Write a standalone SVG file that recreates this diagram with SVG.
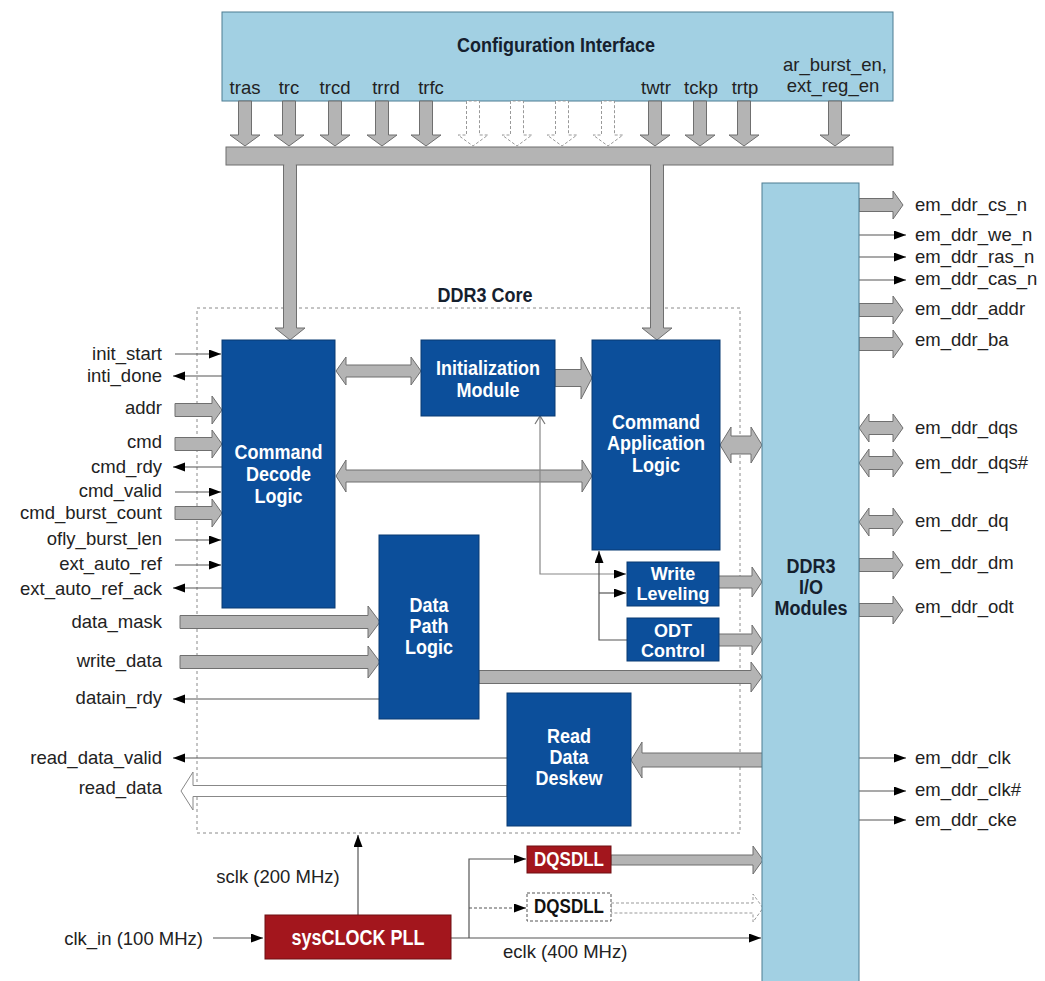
<svg xmlns="http://www.w3.org/2000/svg" width="1045" height="981" viewBox="0 0 1045 981">
<defs>
<style>
.lbl{font-family:"Liberation Sans",Arial,sans-serif;font-size:18.5px;fill:#222}
.r{text-anchor:end}
.c{text-anchor:middle}
.bw{font-family:"Liberation Sans",Arial,sans-serif;font-weight:bold;font-size:18px;fill:#fff;text-anchor:middle}
.bk{font-family:"Liberation Sans",Arial,sans-serif;font-weight:bold;font-size:18px;fill:#15202e;text-anchor:middle}
.blue{fill:#0c4f9b;stroke:#093a72;stroke-width:1}
.lb{fill:#a2d0e3;stroke:#4d7d92;stroke-width:1}
.red{fill:#a3161d;stroke:#6e0e12;stroke-width:1}
.ga{fill:#b4b4b4;stroke:#6f6f6f;stroke-width:1}
.gd{fill:#fff;stroke:#999;stroke-width:1;stroke-dasharray:3,2}
.ho{fill:#fff;stroke:#888;stroke-width:1}
.tn{fill:none;stroke:#555;stroke-width:1.2}
.tg{fill:none;stroke:#888;stroke-width:1.2}
</style>
<marker id="ah" markerUnits="userSpaceOnUse" markerWidth="13" markerHeight="10" refX="12" refY="4.5" orient="auto"><path d="M0,0 L12,4.5 L0,9 Z" fill="#000"/></marker>
</defs>
<rect width="1045" height="981" fill="#fff"/>

<g id="ddr3core">
<rect x="197" y="308" width="543" height="525" fill="none" stroke="#8a8a8a" stroke-width="1" stroke-dasharray="3,3"/>
<text class="bk" transform="translate(485,302) scale(1,1.12)">DDR3 Core</text>
</g>

<g id="config">
<rect class="lb" x="222" y="12" width="671" height="89"/>
<text class="bk" transform="translate(556,52) scale(1,1.12)">Configuration Interface</text>
<text class="lbl c" x="245" y="94">tras</text>
<text class="lbl c" x="289" y="94">trc</text>
<text class="lbl c" x="335" y="94">trcd</text>
<text class="lbl c" x="386" y="94">trrd</text>
<text class="lbl c" x="431" y="94">trfc</text>
<text class="lbl c" x="656" y="94">twtr</text>
<text class="lbl c" x="701" y="94">tckp</text>
<text class="lbl c" x="745" y="94">trtp</text>
<text class="lbl c" x="835" y="71">ar_burst_en,</text>
<text class="lbl c" x="833" y="92">ext_reg_en</text>
</g>

<g id="connectors">
<path class="ga" d="M238.5,101 V135 H230 L245,146 L260,135 H251.5 V101 Z"/>
<path class="ga" d="M282.5,101 V135 H274 L289,146 L304,135 H295.5 V101 Z"/>
<path class="ga" d="M328.5,101 V135 H320 L335,146 L350,135 H341.5 V101 Z"/>
<path class="ga" d="M375.5,101 V135 H367 L382,146 L397,135 H388.5 V101 Z"/>
<path class="ga" d="M419.5,101 V135 H411 L426,146 L441,135 H432.5 V101 Z"/>
<path class="gd" d="M466.5,101 V135 H458 L473,146 L488,135 H479.5 V101 Z"/>
<path class="gd" d="M510.5,101 V135 H502 L517,146 L532,135 H523.5 V101 Z"/>
<path class="gd" d="M555.5,101 V135 H547 L562,146 L577,135 H568.5 V101 Z"/>
<path class="gd" d="M601.5,101 V135 H593 L608,146 L623,135 H614.5 V101 Z"/>
<path class="ga" d="M648.5,101 V135 H640 L655,146 L670,135 H661.5 V101 Z"/>
<path class="ga" d="M693.5,101 V135 H685 L700,146 L715,135 H706.5 V101 Z"/>
<path class="ga" d="M737.5,101 V135 H729 L744,146 L759,135 H750.5 V101 Z"/>
<path class="ga" d="M828.5,101 V135 H820 L835,146 L850,135 H841.5 V101 Z"/>
<path class="ga" d="M283.5,164 V328 H275 L290,340 L305,328 H296.5 V164 Z"/>
<path class="ga" d="M650.5,164 V328 H642 L657,340 L672,328 H663.5 V164 Z"/>
<rect class="ga" x="226" y="147" width="667" height="18"/>
<rect x="284.2" y="163" width="11.6" height="4" fill="#b4b4b4"/>
<rect x="651.2" y="163" width="11.6" height="4" fill="#b4b4b4"/>

<line class="tn" x1="175" y1="354" x2="221" y2="354" marker-end="url(#ah)"/>
<line class="tn" x1="222" y1="376" x2="173" y2="376" marker-end="url(#ah)"/>
<path class="ga" d="M175,403.5 H212 V396 L222,410 L212,424 V416.5 H175 Z"/>
<path class="ga" d="M175,437.5 H212 V430 L222,444 L212,458 V450.5 H175 Z"/>
<line class="tn" x1="222" y1="467" x2="173" y2="467" marker-end="url(#ah)"/>
<line class="tn" x1="175" y1="492" x2="221" y2="492" marker-end="url(#ah)"/>
<path class="ga" d="M175,506.5 H212 V499 L222,513 L212,527 V519.5 H175 Z"/>
<line class="tn" x1="175" y1="540" x2="221" y2="540" marker-end="url(#ah)"/>
<line class="tn" x1="175" y1="565" x2="221" y2="565" marker-end="url(#ah)"/>
<line class="tn" x1="222" y1="588" x2="173" y2="588" marker-end="url(#ah)"/>
<path class="ga" d="M180,615.5 H368 V606 L380,622 L368,638 V628.5 H180 Z"/>
<path class="ga" d="M180,655.5 H368 V646 L380,662 L368,678 V668.5 H180 Z"/>
<line class="tn" x1="379" y1="699" x2="173" y2="699" marker-end="url(#ah)"/>
<line class="tn" x1="507" y1="758" x2="173" y2="758" marker-end="url(#ah)"/>
<path class="ho" d="M507,785.5 H193 V772 L181,791 L193,810 V796.5 H507 Z"/>

<path class="ga" d="M336,371 L346,357 V365 H411 V357 L421,371 L411,385 V377 H346 V385 Z"/>
<path class="ga" d="M555,369.5 H581 V357 L592,378 L581,399 V386.5 H555 Z"/>
<path class="ga" d="M336,476 L346,460 V470 H582 V460 L592,476 L582,492 V482 H346 V492 Z"/>
<path class="ga" d="M720,445 L731,427 V436 H751 V427 L762,445 L751,463 V454 H731 V463 Z"/>
<path class="ga" d="M718,576 H752 V567 L762,582 L752,597 V588 H718 Z"/>
<path class="ga" d="M718,634 H752 V625 L762,640 L752,655 V646 H718 Z"/>
<path class="ga" d="M479,670.5 H751 V662 L762,677 L751,692 V683.5 H479 Z"/>
<path class="ga" d="M763,753 H642 V742 L631,760 L642,778 V767 H763 Z"/>
<polyline class="tg" points="540,417 540,574 626,574" marker-end="url(#ah)"/>
<path d="M535,424 L540,416 L545,424" fill="none" stroke="#777" stroke-width="1.2"/>
<polyline class="tn" points="627,640 599,640 599,551" marker-end="url(#ah)"/>
<line class="tn" x1="599" y1="593" x2="626" y2="593" marker-end="url(#ah)"/>

<path class="ga" d="M859,198.5 H893 V191 L903,205 L893,219 V211.5 H859 Z"/>
<line class="tn" x1="859" y1="235" x2="906" y2="235" marker-end="url(#ah)"/>
<line class="tn" x1="859" y1="257" x2="906" y2="257" marker-end="url(#ah)"/>
<line class="tn" x1="859" y1="280" x2="906" y2="280" marker-end="url(#ah)"/>
<path class="ga" d="M859,303.5 H893 V296 L903,310 L893,324 V316.5 H859 Z"/>
<path class="ga" d="M859,337.5 H893 V330 L903,344 L893,358 V350.5 H859 Z"/>
<path class="ga" d="M859,428 L869,414 V421.5 H893 V414 L903,428 L893,442 V434.5 H869 V442 Z"/>
<path class="ga" d="M859,463 L869,449 V456.5 H893 V449 L903,463 L893,477 V469.5 H869 V477 Z"/>
<path class="ga" d="M859,522 L869,508 V515.5 H893 V508 L903,522 L893,536 V528.5 H869 V536 Z"/>
<path class="ga" d="M859,558.5 H893 V551 L903,565 L893,579 V571.5 H859 Z"/>
<path class="ga" d="M859,603.5 H893 V596 L903,610 L893,624 V616.5 H859 Z"/>
<line class="tn" x1="859" y1="758" x2="906" y2="758" marker-end="url(#ah)"/>
<line class="tn" x1="859" y1="791" x2="906" y2="791" marker-end="url(#ah)"/>
<line class="tn" x1="859" y1="820" x2="906" y2="820" marker-end="url(#ah)"/>

<line class="tn" x1="213" y1="938" x2="263" y2="938" marker-end="url(#ah)"/>
<line class="tn" x1="358" y1="915" x2="358" y2="835" marker-end="url(#ah)"/>
<line class="tn" x1="451" y1="938" x2="761" y2="938" marker-end="url(#ah)"/>
<polyline class="tn" points="469,938 469,859 526,859" marker-end="url(#ah)"/>
<line x1="469" y1="908" x2="526" y2="908" stroke="#555" stroke-width="1.2" stroke-dasharray="3,2" marker-end="url(#ah)"/>
<path class="ga" d="M611,855 H753 V846 L763,860 L753,874 V865 H611 Z"/>
<path class="gd" d="M611,903 H753 V894 L763,908 L753,922 V913 H611 Z"/>
</g>

<g id="left-labels">
<text class="lbl r" x="162" y="360">init_start</text>
<text class="lbl r" x="162" y="382">inti_done</text>
<text class="lbl r" x="162" y="414">addr</text>
<text class="lbl r" x="162" y="448">cmd</text>
<text class="lbl r" x="162" y="473">cmd_rdy</text>
<text class="lbl r" x="162" y="497">cmd_valid</text>
<text class="lbl r" x="162" y="519">cmd_burst_count</text>
<text class="lbl r" x="162" y="545">ofly_burst_len</text>
<text class="lbl r" x="162" y="570">ext_auto_ref</text>
<text class="lbl r" x="162" y="595">ext_auto_ref_ack</text>
<text class="lbl r" x="162" y="628">data_mask</text>
<text class="lbl r" x="162" y="667">write_data</text>
<text class="lbl r" x="162" y="704">datain_rdy</text>
<text class="lbl r" x="162" y="764">read_data_valid</text>
<text class="lbl r" x="162" y="794">read_data</text>
</g>

<g id="right-labels">
<text class="lbl" x="915" y="211">em_ddr_cs_n</text>
<text class="lbl" x="915" y="241">em_ddr_we_n</text>
<text class="lbl" x="915" y="263">em_ddr_ras_n</text>
<text class="lbl" x="915" y="285">em_ddr_cas_n</text>
<text class="lbl" x="915" y="315">em_ddr_addr</text>
<text class="lbl" x="915" y="346">em_ddr_ba</text>
<text class="lbl" x="915" y="434">em_ddr_dqs</text>
<text class="lbl" x="915" y="469">em_ddr_dqs#</text>
<text class="lbl" x="915" y="527">em_ddr_dq</text>
<text class="lbl" x="915" y="569">em_ddr_dm</text>
<text class="lbl" x="915" y="613">em_ddr_odt</text>
<text class="lbl" x="915" y="764">em_ddr_clk</text>
<text class="lbl" x="915" y="796">em_ddr_clk#</text>
<text class="lbl" x="915" y="826">em_ddr_cke</text>
</g>

<g id="cmd-decode">
<rect class="blue" x="222" y="340" width="113" height="268"/>
<text class="bw" transform="translate(278.5,459) scale(1,1.1)">Command</text>
<text class="bw" transform="translate(278.5,481) scale(1,1.1)">Decode</text>
<text class="bw" transform="translate(278.5,503) scale(1,1.1)">Logic</text>
</g>
<g id="init-module">
<rect class="blue" x="421" y="340" width="134" height="76"/>
<text class="bw" transform="translate(488,375) scale(1,1.1)">Initialization</text>
<text class="bw" transform="translate(488,397) scale(1,1.1)">Module</text>
</g>
<g id="cmd-app">
<rect class="blue" x="592" y="340" width="128" height="210"/>
<text class="bw" transform="translate(656,429) scale(1,1.1)">Command</text>
<text class="bw" transform="translate(656,450) scale(1,1.1)">Application</text>
<text class="bw" transform="translate(656,472) scale(1,1.1)">Logic</text>
</g>
<g id="write-leveling">
<rect class="blue" x="627" y="562" width="92" height="44"/>
<text class="bw" transform="translate(673,580) scale(1,1.05)">Write</text>
<text class="bw" transform="translate(673,600) scale(1,1.05)">Leveling</text>
</g>
<g id="odt-control">
<rect class="blue" x="627" y="618" width="92" height="43"/>
<text class="bw" transform="translate(673,637) scale(1,1.05)">ODT</text>
<text class="bw" transform="translate(673,657) scale(1,1.05)">Control</text>
</g>
<g id="data-path">
<rect class="blue" x="379" y="535" width="100" height="184"/>
<text class="bw" transform="translate(429,612) scale(1,1.1)">Data</text>
<text class="bw" transform="translate(429,633) scale(1,1.1)">Path</text>
<text class="bw" transform="translate(429,654) scale(1,1.1)">Logic</text>
</g>
<g id="read-deskew">
<rect class="blue" x="507" y="693" width="124" height="133"/>
<text class="bw" transform="translate(569,743) scale(1,1.1)">Read</text>
<text class="bw" transform="translate(569,764) scale(1,1.1)">Data</text>
<text class="bw" transform="translate(569,785) scale(1,1.1)">Deskew</text>
</g>
<g id="io-modules">
<rect class="lb" x="762" y="183" width="97" height="810"/>
<text class="bk" transform="translate(811,573) scale(1,1.1)">DDR3</text>
<text class="bk" transform="translate(811,594) scale(1,1.1)">I/O</text>
<text class="bk" transform="translate(811,615) scale(1,1.1)">Modules</text>
</g>
<g id="pll">
<rect class="red" x="265" y="915" width="186" height="44"/>
<text class="bw" transform="translate(358,945) scale(1,1.2)">sysCLOCK PLL</text>
</g>
<g id="dqsdll1">
<rect class="red" x="527" y="846" width="84" height="27"/>
<text class="bw" style="font-size:17px" transform="translate(569,866) scale(1,1.15)">DQSDLL</text>
</g>
<g id="dqsdll2">
<rect x="527" y="893" width="84" height="28" fill="#fff" stroke="#555" stroke-width="1" stroke-dasharray="3,2"/>
<text class="bk" style="font-size:17px;fill:#111" transform="translate(569,913) scale(1,1.15)">DQSDLL</text>
</g>
<g id="clock-labels">
<text class="lbl r" x="203" y="945">clk_in (100 MHz)</text>
<text class="lbl c" x="278" y="883">sclk (200 MHz)</text>
<text class="lbl" x="503" y="958">eclk (400 MHz)</text>
</g>
</svg>
